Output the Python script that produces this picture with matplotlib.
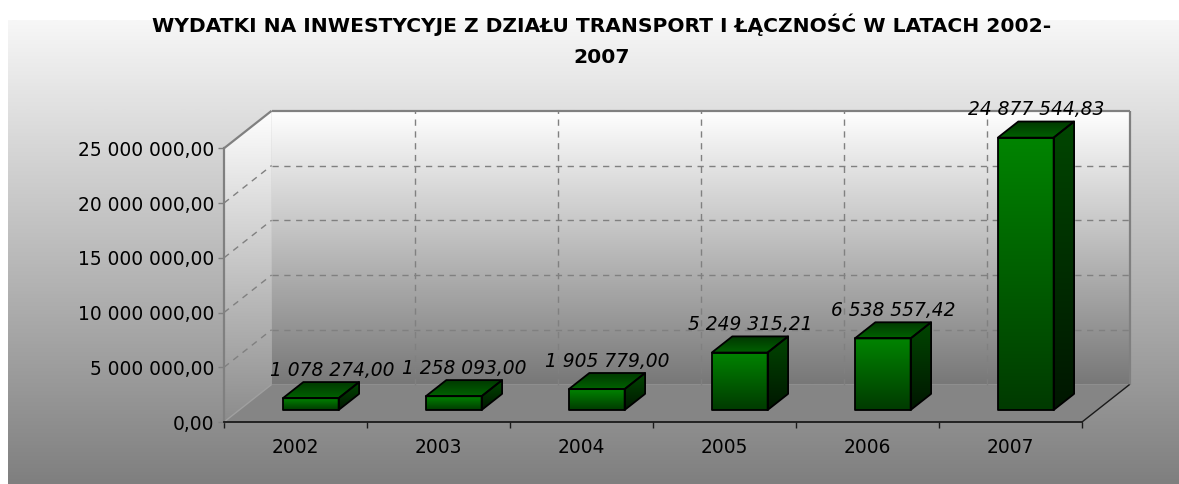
import numpy as np
import matplotlib
matplotlib.use('Agg')
import matplotlib.pyplot as plt
from matplotlib.patches import Polygon
from matplotlib.colors import LinearSegmentedColormap

plt.rcParams['font.family'] = ['DejaVu Sans']

# dane
years = ['2002', '2003', '2004', '2005', '2006', '2007']
values = [1078274.00, 1258093.00, 1905779.00, 5249315.21, 6538557.42, 24877544.83]
value_labels = ['1 078 274,00', '1 258 093,00', '1 905 779,00',
                '5 249 315,21', '6 538 557,42', '24 877 544,83']
y_ticks = [0, 5000000, 10000000, 15000000, 20000000, 25000000]
y_tick_labels = ['0,00', '5 000 000,00', '10 000 000,00', '15 000 000,00',
                 '20 000 000,00', '25 000 000,00']
title = 'WYDATKI NA INWESTYCYJE Z DZIAŁU TRANSPORT I ŁĄCZNOŚĆ W LATACH 2002-\n2007'

W, H = 1179, 484
fig = plt.figure(figsize=(W / 100, H / 100), dpi=100, facecolor='white')

# płótno w pikselach (tło, ściany, słupki, etykiety)
cv = fig.add_axes([0, 0, 1, 1], zorder=0)
cv.axis('off')
cv.set_xlim(0, W)
cv.set_ylim(0, H)
cv.set_autoscale_on(False)

# przednia płaszczyzna wykresu - osie i skale
ax = fig.add_axes([224 / W, 62 / H, 858 / W, 273.7 / H], zorder=1)
n = len(years)
top = y_ticks[-1]
ax.set_xlim(0, n)
ax.set_ylim(0, top)
ax.patch.set_visible(False)

DX, DY = 47.6, 37.5   # wektor głębi (px)
d0, d1 = 0.32, 0.75   # głębokość przodu i tyłu słupka
bw = 0.39             # szerokość słupka


def P(x, y, d=0.0):
    px, py = ax.transData.transform((x, y))
    return (px + d * DX, py + d * DY)


def grad(verts, c_top, c_bot, z):
    xs = [v[0] for v in verts]
    ys = [v[1] for v in verts]
    cmap = LinearSegmentedColormap.from_list('g', [c_bot, c_top])
    im = cv.imshow(np.linspace(0, 1, 256).reshape(-1, 1), cmap=cmap, origin='lower',
                   aspect='auto', interpolation='bilinear', zorder=z,
                   extent=(min(xs), max(xs), min(ys), max(ys)))
    im.set_clip_path(Polygon(verts, closed=True, transform=cv.transData))


def line(a, b, **kw):
    cv.plot([a[0], b[0]], [a[1], b[1]], solid_capstyle='butt', **kw)


# tło obszaru wykresu
grad([(8, 0), (W, 0), (W, H - 20), (8, H - 20)], '#f7f7f7', '#7f7f7f', 0)

# ściany i podłoga
grad([P(0, 0, 1), P(n, 0, 1), P(n, top, 1), P(0, top, 1)], '#ffffff', '#787878', 1)
grad([P(0, 0, 0), P(0, 0, 1), P(0, top, 1), P(0, top, 0)], '#ffffff', '#8c8c8c', 1)
cv.add_patch(Polygon([P(0, 0, 0), P(n, 0, 0), P(n, 0, 1), P(0, 0, 1)],
                     closed=True, fc='#858585', ec='none', zorder=1))

# linie siatki
dash = dict(color='#808080', lw=1, dashes=(4.5, 4), zorder=2)
for yt in y_ticks[1:-1]:
    line(P(0, yt, 0), P(0, yt, 1), **dash)
    line(P(0, yt, 1), P(n, yt, 1), **dash)
for k in range(1, n):
    line(P(k, 0, 1), P(k, top, 1), **dash)

# krawędzie ścian
edge = dict(color='#808080', lw=1.6, zorder=3)
line(P(0, top, 0), P(0, top, 1), **edge)
line(P(0, top, 1), P(n, top, 1), **edge)
line(P(n, top, 1), P(n, 0, 1), **edge)
line(P(0, 0, 0), P(0, 0, 1), color='#a0a0a0', lw=1, zorder=2)
line(P(n, 0, 0), P(n, 0, 1), color='#1a1a1a', lw=1, zorder=3)

# słupki 3D
for i, v in enumerate(values):
    x0, x1 = i + 0.5 - bw / 2, i + 0.5 + bw / 2
    front = [P(x0, 0, d0), P(x1, 0, d0), P(x1, v, d0), P(x0, v, d0)]
    side = [P(x1, 0, d0), P(x1, 0, d1), P(x1, v, d1), P(x1, v, d0)]
    lid = [P(x0, v, d0), P(x1, v, d0), P(x1, v, d1), P(x0, v, d1)]
    grad(front, '#008400', '#003a00', 5)
    grad(side, '#004600', '#001600', 5)
    grad(lid, '#003600', '#006200', 5)
    for poly in (front, side, lid):
        cv.add_patch(Polygon(poly, closed=True, fill=False, ec='black',
                             lw=1.3, joinstyle='round', zorder=6))

# etykiety wartości (nad środkiem wieczka, w granicach ściany)
renderer = fig.canvas.get_renderer()
wall_left = P(0, 0, 1)[0]
for i, v in enumerate(values):
    tx, ty = P(i + 0.5, v, (d0 + d1) / 2)
    t = cv.text(tx, ty + 20, value_labels[i], ha='center', va='center',
                fontsize=13.4, style='italic', color='black', zorder=7)
    bb = t.get_window_extent(renderer)
    if bb.x0 < wall_left:
        t.set_x(tx + wall_left - 2 - bb.x0)

# osie
for s in ('top', 'right'):
    ax.spines[s].set_visible(False)
ax.spines['left'].set_color('#808080')
ax.spines['left'].set_linewidth(1.6)
ax.spines['bottom'].set_color('#1a1a1a')
ax.spines['bottom'].set_linewidth(1.3)

ax.set_yticks(y_ticks, y_tick_labels, fontsize=13.4)
ax.tick_params(axis='y', length=4.3, width=1, color='#808080', pad=2.9, labelcolor='black')
ax.set_xticks(range(n + 1), [''] * (n + 1))
ax.set_xticks(np.arange(n) + 0.5, years, minor=True, fontsize=13.4)
ax.tick_params(axis='x', which='major', length=4.3, width=1, color='#1a1a1a')
ax.tick_params(axis='x', which='minor', length=0, pad=11.5)

fig.text(602 / W, 1 - 40 / H, title, ha='center', va='center', fontsize=14.6,
         fontweight='bold', linespacing=1.8)

fig.savefig('out.png', dpi=100)
